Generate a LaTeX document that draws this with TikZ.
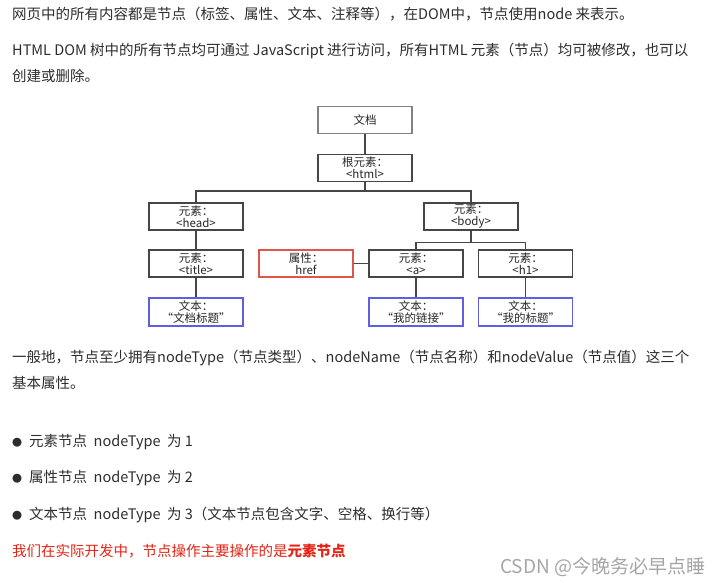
\documentclass[tikz,border=0pt]{standalone}
\usepackage{fontspec}
\setmainfont{Noto Sans CJK SC}
\usepackage{tikz}
\usetikzlibrary{positioning}
\definecolor{bodytext}{RGB}{45,45,45}
\definecolor{boxline}{RGB}{70,70,70}
\definecolor{docline}{RGB}{130,130,130}
\definecolor{attrline}{RGB}{225,85,75}
\definecolor{textline}{RGB}{95,95,225}
\definecolor{notered}{RGB}{228,35,20}
\definecolor{markgray}{RGB}{165,165,165}
\tikzset{
  domnode/.style={draw=boxline, line width=1.1pt, minimum width=94pt, minimum height=27pt,
    inner sep=1pt, align=center, font=\fontsize{11.5}{12}\selectfont, text=black!85},
  docnode/.style={domnode, draw=docline, line width=1.5pt},
  attrnode/.style={domnode, draw=attrline},
  textnode/.style={domnode, draw=textline, minimum height=28pt},
  domlink/.style={draw=boxline, line width=1.1pt},
  para/.style={anchor=base west, inner sep=0pt, text=bodytext, font=\fontsize{14.5}{16}\selectfont},
}
\begin{document}
\begin{tikzpicture}[x=1pt, y=-1pt]
  \useasboundingbox (0,0) rectangle (726,583);

  % paragraphs above the tree
  \node[para] (p1) at (12,19.5) {网页中的所有内容都是节点（标签、属性、文本、注释等），在DOM中，节点使用node 来表示。};
  \node[para] (p2) at (12,56) {HTML DOM 树中的所有节点均可通过 JavaScript 进行访问，所有HTML 元素（节点）均可被修改，也可以};
  \node[para] (p3) at (12,82) {创建或删除。};

  % the DOM tree
  \node[docnode] (doc) at (365,120) {文档};
  \node[domnode] (html) at (365,168) {根元素：\\\textless html\textgreater};
  \node[domnode] (head) at (196,216.5) {元素：\\\textless head\textgreater};
  \node[domnode] (body) at (471,216.5) {元素：\\\textless body\textgreater};
  \node[domnode] (title) at (196,263.5) {元素：\\\textless title\textgreater};
  \node[attrnode] (href) at (306,263.5) {属性：\\href};
  \node[domnode] (anchor) at (416,263.5) {元素：\\\textless a\textgreater};
  \node[domnode] (hone) at (525.5,263.5) {元素：\\\textless h1\textgreater};
  \node[textnode] (ttitle) at (196,312) {文本：\\“文档标题”};
  \node[textnode] (tanchor) at (416,312) {文本：\\“我的链接”};
  \node[textnode] (thone) at (525.5,312) {文本：\\“我的标题”};

  \draw[domlink] (doc) -- (html);
  \draw[domlink] (html.south) -- ++(0,9) -| (head.north);
  \draw[domlink] (html.south) -- ++(0,9) -| (body.north);
  \draw[domlink] (head) -- (title);
  \draw[domlink] (title) -- (ttitle);
  \draw[domlink] (body.south) -- ++(0,12) -| (anchor.north);
  \draw[domlink] (body.south) -- ++(0,12) -| (hone.north);
  \draw[domlink] (href) -- (anchor);
  \draw[domlink] (anchor) -- (tanchor);
  \draw[domlink] (hone) -- (thone);

  % paragraphs below the tree
  \node[para] (p4) at (12,362) {一般地，节点至少拥有nodeType（节点类型）、nodeName（节点名称）和nodeValue（节点值）这三个};
  \node[para] (p5) at (12,388) {基本属性。};
  \node[para] (b1) at (12,446) {\makebox[17pt][l]{\fontsize{10}{10}\selectfont●}元素节点\ \ nodeType\ \ 为 1};
  \node[para] (b2) at (12,482) {\makebox[17pt][l]{\fontsize{10}{10}\selectfont●}属性节点\ \ nodeType\ \ 为 2};
  \node[para] (b3) at (12,519) {\makebox[17pt][l]{\fontsize{10}{10}\selectfont●}文本节点\ \ nodeType\ \ 为 3（文本节点包含文字、空格、换行等）};
  \node[para, text=notered] (note) at (12,556) {我们在实际开发中，节点操作主要操作的是\textbf{元素节点}};
  \node[para, text=markgray, font=\fontsize{19}{21}\selectfont] (mark) at (500,573) {CSDN @今晚务必早点睡};
\end{tikzpicture}
\end{document}
